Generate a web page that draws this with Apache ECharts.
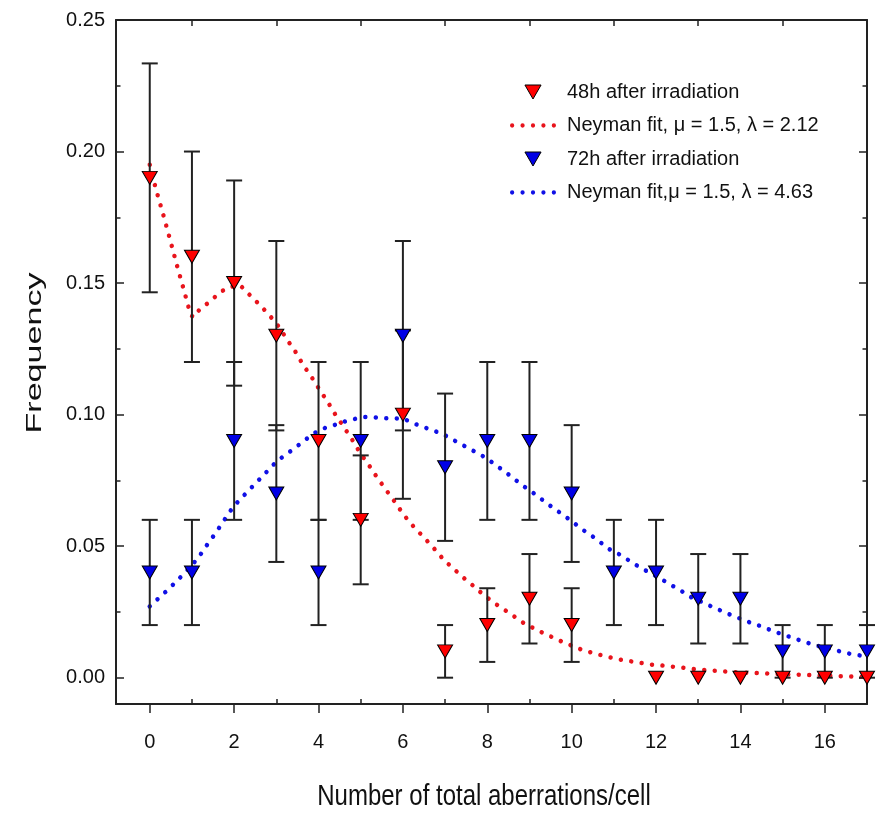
<!DOCTYPE html>
<html>
<head>
<meta charset="utf-8">
<script src="https://cdn.jsdelivr.net/npm/echarts@6/dist/echarts.min.js"></script>
<style>
html,body{margin:0;padding:0;background:#fff;}
#chart{width:876px;height:815px;}
</style>
</head>
<body>
<div id="chart"></div>
<script>
// ---- data ----
const counts = [0,1,2,3,4,5,6,7,8,9,10,11,12,13,14,15,16,17];
const freq48h = [0.19,0.16,0.15,0.13,0.09,0.06,0.10,0.01,0.02,0.03,0.02,null,0,0,0,0,0,0];
const err48h  = [0.0435,0.04,0.039,0.036,0.03,0.0245,0.032,0.01,0.014,0.017,0.014,null,0,0,0,0,0,0];
const freq72h = [0.04,0.04,0.09,0.07,0.04,0.09,0.13,0.08,0.09,0.09,0.07,0.04,0.04,0.03,0.03,0.01,0.01,0.01];
const err72h  = [0.02,0.02,0.03,0.026,0.02,0.03,0.036,0.028,0.03,0.03,0.026,0.02,0.02,0.017,0.017,0.01,0.01,0.01];

const fit48X = [0,0.15,0.32,0.48,0.64,0.81,0.97,1.05,1.18,1.43,1.67,1.9,2.14,2.38,2.62,2.84,3.06,3.25,3.45,3.63,3.83,4.02,4.22,4.4,4.6,4.8,4.98,5.19,5.39,5.6,5.81,6.02,6.26,6.5,6.74,6.97,7.21,7.43,7.67,7.91,8.15,8.38,8.62,8.86,9.1,9.33,9.57,9.81,10.05,10.26,10.5,10.74,10.97,11.21,11.45,11.69,11.92,12.16,12.4,12.64,12.87,13.5,14,14.5,15,15.5,16,16.5,17];
const fit48Y = [0.195,0.1855,0.176,0.1666,0.157,0.1473,0.1378,0.137,0.140,0.143,0.1466,0.1485,0.1492,0.1453,0.1415,0.1377,0.1334,0.1286,0.124,0.119,0.1144,0.1096,0.1048,0.1,0.0953,0.0904,0.0856,0.0809,0.0761,0.0714,0.0668,0.0619,0.0573,0.0533,0.0491,0.0448,0.0413,0.0381,0.0349,0.0315,0.0286,0.0261,0.0235,0.0208,0.0188,0.0169,0.0152,0.0134,0.0119,0.0105,0.0094,0.0084,0.0075,0.0067,0.0061,0.0055,0.0049,0.0046,0.0042,0.0038,0.0033,0.0025,0.002,0.0017,0.0013,0.0011,0.0008,0.0005,0.0003];

const fit72X = [0,0.23,0.47,0.7,0.93,1.15,1.35,1.57,1.77,1.98,2.21,2.45,2.68,2.92,3.16,3.4,3.63,3.87,4.11,4.35,4.58,4.82,5.06,5.3,5.53,5.77,6.01,6.25,6.48,6.72,6.96,7.17,7.41,7.65,7.89,8.12,8.36,8.6,8.82,9.06,9.29,9.53,9.77,10.01,10.24,10.48,10.72,10.95,11.17,11.41,11.65,11.88,12.12,12.36,12.6,12.84,13.07,13.31,13.55,13.78,14.02,14.26,14.5,14.73,14.97,15.21,15.45,15.68,15.9,16.14,16.38,16.62,16.86,17];
const fit72Y = [0.0271,0.0305,0.034,0.0377,0.0415,0.0456,0.0503,0.0552,0.06,0.065,0.0689,0.0729,0.0767,0.0808,0.0841,0.0868,0.0897,0.0927,0.0947,0.0959,0.0972,0.0982,0.0991,0.099,0.0986,0.0986,0.0985,0.0967,0.0953,0.094,0.0925,0.0906,0.0885,0.0864,0.0843,0.0818,0.079,0.0761,0.0732,0.0706,0.0678,0.0649,0.0622,0.0594,0.0565,0.0539,0.051,0.0482,0.0466,0.044,0.0416,0.0397,0.0375,0.0352,0.033,0.0305,0.0289,0.0271,0.0254,0.0238,0.0223,0.0208,0.0195,0.018,0.0166,0.0153,0.014,0.0128,0.0118,0.0109,0.0099,0.009,0.0084,0.008];

const xMajorTicks = [0,2,4,6,8,10,12,14,16];
const xMinorTicks = [1,3,5,7,9,11,13,15];
const yMajorTicks = [0,0.05,0.10,0.15,0.20,0.25];
const yMinorTicks = [0.025,0.075,0.125,0.175,0.225];

const names = ['48h after irradiation','Neyman fit, \u03bc = 1.5, \u03bb = 2.12','72h after irradiation','Neyman fit,\u03bc = 1.5, \u03bb = 4.63'];

// ---- build ----
const FONT = '"Liberation Sans", Arial, sans-serif';
const AX = '#222';
const RED = '#ff0000', BLUE = '#0000e6', RED_FIT = '#e8141c', BLUE_FIT = '#1010e6';
const TRI_DOWN = 'path://M0,0L15,0L7.5,13Z';
// five round dots for the dotted-line legend icon
const DOTS = 'path://' + [0,1,2,3,4].map(k=>{
  const cx = 2.25 + 11*k;
  return 'M' + (cx-2.25) + ',2.25a2.25,2.25 0 1,0 4.5,0a2.25,2.25 0 1,0 -4.5,0Z';
}).join('');
function pts(xs, ys){ return xs.map((x,i)=>[x, ys[i]]); }
function scatterData(vals){ return counts.map((c,i)=>[c, vals[i]]).filter(d=>d[1]!==null); }
function errData(vals, errs){
  return counts.map((c,i)=>[c, vals[i]===null?null:vals[i]-errs[i], vals[i]===null?null:vals[i]+errs[i], errs[i]])
    .filter(d=>d[1]!==null && d[3]>0);
}
function errRender(params, api){
  const x = api.value(0), lo = api.value(1), hi = api.value(2);
  const a = api.coord([x, hi]), b = api.coord([x, lo]);
  const w = 8;
  const st = {stroke: AX, lineWidth: 2};
  return {type:'group', children:[
    {type:'line', shape:{x1:a[0], y1:a[1], x2:b[0], y2:b[1]}, style:st},
    {type:'line', shape:{x1:a[0]-w, y1:a[1], x2:a[0]+w, y2:a[1]}, style:st},
    {type:'line', shape:{x1:b[0]-w, y1:b[1], x2:b[0]+w, y2:b[1]}, style:st}
  ]};
}
const dotLine = (color)=>({color: color, width: 4.5, type: [0.01, 10.5], cap: 'round'});

const baseX = {type:'value', min:-0.8, max:17, splitLine:{show:false}};
const baseY = {type:'value', min:-0.01, max:0.25, splitLine:{show:false}};

const chart = echarts.init(document.getElementById('chart'), null, {renderer:'canvas'});
chart.setOption({
  animation: false,
  backgroundColor: '#fff',
  grid: {left:116, right:9, top:20, bottom:111, outerBoundsMode:'none', containLabel:false},
  xAxis: [
    Object.assign({}, baseX, {position:'bottom',
      axisLine:{show:true, onZero:false, lineStyle:{color:AX, width:2}},
      axisTick:{show:true, inside:false, length:9, lineStyle:{color:AX, width:1.5}, customValues:xMajorTicks},
      axisLabel:{show:true, customValues:xMajorTicks, margin:28, fontSize:20, fontFamily:FONT, color:'#111'}}),
    Object.assign({}, baseX, {position:'bottom',
      axisLine:{show:false, onZero:false},
      axisTick:{show:true, inside:true, length:5, lineStyle:{color:AX, width:1.5}, customValues:xMinorTicks},
      axisLabel:{show:false}}),
    Object.assign({}, baseX, {position:'top',
      axisLine:{show:true, onZero:false, lineStyle:{color:AX, width:2}},
      axisTick:{show:true, inside:true, length:6, lineStyle:{color:AX, width:1.5}, customValues:xMinorTicks},
      axisLabel:{show:false}})
  ],
  yAxis: [
    Object.assign({}, baseY, {position:'left',
      axisLine:{show:true, onZero:false, lineStyle:{color:AX, width:2}},
      axisTick:{show:true, inside:true, length:8, lineStyle:{color:AX, width:1.5}, customValues:yMajorTicks},
      axisLabel:{show:true, customValues:yMajorTicks, margin:11, fontSize:20, fontFamily:FONT, color:'#111',
        formatter:(v)=>Number(v).toFixed(2)}}),
    Object.assign({}, baseY, {position:'left',
      axisLine:{show:false, onZero:false},
      axisTick:{show:true, inside:true, length:4.5, lineStyle:{color:AX, width:1.5}, customValues:yMinorTicks},
      axisLabel:{show:false}}),
    Object.assign({}, baseY, {position:'right',
      axisLine:{show:true, onZero:false, lineStyle:{color:AX, width:2}},
      axisTick:{show:true, inside:true, length:8, lineStyle:{color:AX, width:1.5}, customValues:yMajorTicks},
      axisLabel:{show:false}}),
    Object.assign({}, baseY, {position:'right',
      axisLine:{show:false, onZero:false},
      axisTick:{show:true, inside:true, length:4.5, lineStyle:{color:AX, width:1.5}, customValues:yMinorTicks},
      axisLabel:{show:false}})
  ],
  legend: {
    show: true, orient:'vertical', left:505, top:77,
    itemWidth:46, itemHeight:14, itemGap:13.5,
    symbolKeepAspect:true, symbolRotate:0,
    textStyle:{fontSize:20, fontFamily:FONT, color:'#111', padding:[0,0,0,6]},
    data: [
      {name:names[0], icon:TRI_DOWN, itemStyle:{color:RED, borderColor:'#000', borderWidth:1}},
      {name:names[1], icon:DOTS, itemStyle:{color:RED_FIT, borderWidth:0}},
      {name:names[2], icon:TRI_DOWN, itemStyle:{color:BLUE, borderColor:'#000', borderWidth:1}},
      {name:names[3], icon:DOTS, itemStyle:{color:BLUE_FIT, borderWidth:0}}
    ],
    selectedMode:false
  },
  graphic: [
    {type:'text', x:35, y:353, rotation:Math.PI/2, scaleX:1.55, scaleY:1,
      style:{text:'Frequency', font:'22px "Liberation Sans", Arial, sans-serif', fill:'#111',
        align:'center', verticalAlign:'middle', textAlign:'center', textVerticalAlign:'middle'}},
    {type:'text', x:484, y:797, scaleX:1, scaleY:1.2,
      style:{text:'Number of total aberrations/cell', font:'24px "Liberation Sans", Arial, sans-serif', fill:'#111',
        align:'center', verticalAlign:'middle', textAlign:'center', textVerticalAlign:'middle'}}
  ],
  series: [
    {name:names[1], type:'line', xAxisIndex:0, yAxisIndex:0, data:pts(fit48X, fit48Y), symbol:'none', smooth:false,
      lineStyle:dotLine(RED_FIT), itemStyle:{color:RED_FIT}, z:2},
    {name:names[3], type:'line', xAxisIndex:0, yAxisIndex:0, data:pts(fit72X, fit72Y), symbol:'none', smooth:false,
      lineStyle:dotLine(BLUE_FIT), itemStyle:{color:BLUE_FIT}, z:2},
    {name:'err48', type:'custom', xAxisIndex:0, yAxisIndex:0, data:errData(freq48h, err48h), renderItem:errRender,
      encode:{x:0, y:[1,2]}, clip:false, z:3, silent:true},
    {name:'err72', type:'custom', xAxisIndex:0, yAxisIndex:0, data:errData(freq72h, err72h), renderItem:errRender,
      encode:{x:0, y:[1,2]}, clip:false, z:3, silent:true},
    {name:names[2], type:'scatter', xAxisIndex:0, yAxisIndex:0, data:scatterData(freq72h),
      symbol:'triangle', symbolRotate:180, symbolSize:[15,13], clip:false,
      itemStyle:{color:BLUE, borderColor:'#000', borderWidth:1, opacity:1}, z:4},
    {name:names[0], type:'scatter', xAxisIndex:0, yAxisIndex:0, data:scatterData(freq48h),
      symbol:'triangle', symbolRotate:180, symbolSize:[15,13], clip:false,
      itemStyle:{color:RED, borderColor:'#000', borderWidth:1, opacity:1}, z:5}
  ]
});
</script>
</body>
</html>
